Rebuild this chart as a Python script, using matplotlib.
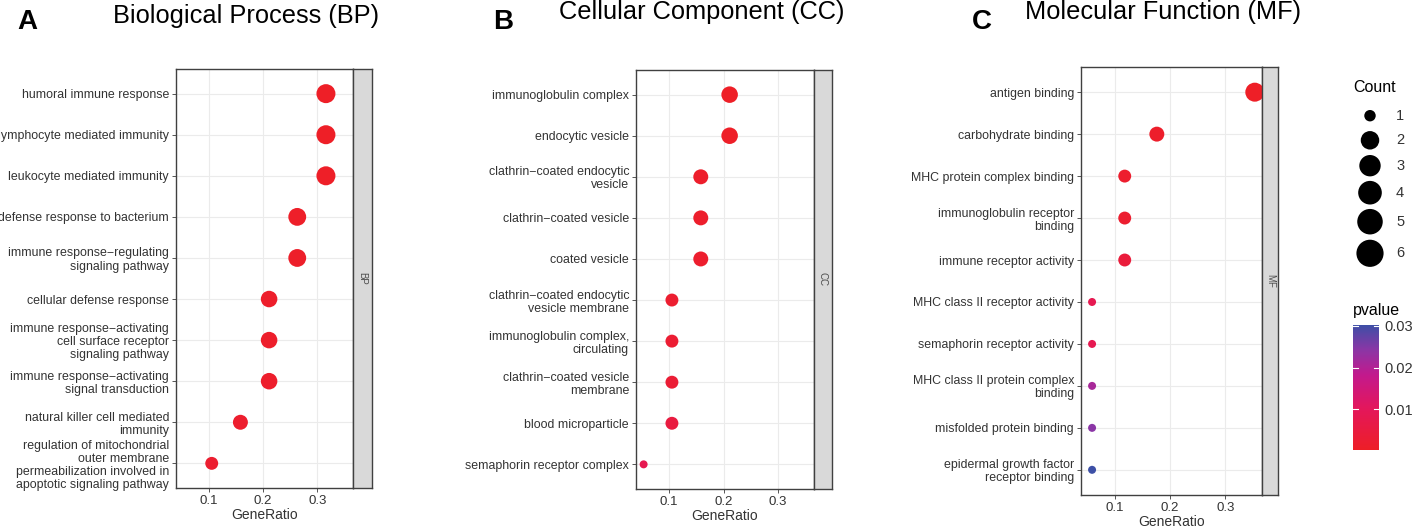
import numpy as np
import matplotlib
matplotlib.use("Agg")
import matplotlib.pyplot as plt
from matplotlib.colors import LinearSegmentedColormap, Normalize

plt.rcParams['font.family'] = ['Liberation Sans', 'DejaVu Sans']

# ---- data ----
bp_terms = ["humoral immune response",
            "lymphocyte mediated immunity",
            "leukocyte mediated immunity",
            "defense response to bacterium",
            "immune response\u2212regulating\nsignaling pathway",
            "cellular defense response",
            "immune response\u2212activating\ncell surface receptor\nsignaling pathway",
            "immune response\u2212activating\nsignal transduction",
            "natural killer cell mediated\nimmunity",
            "regulation of mitochondrial\nouter membrane\npermeabilization involved in\napoptotic signaling pathway"]
bp_count = [6, 6, 6, 5, 5, 4, 4, 4, 3, 2]
bp_ratio = [0.316, 0.316, 0.316, 0.263, 0.263, 0.211, 0.211, 0.211, 0.158, 0.105]
bp_pval = [0.0003, 0.0003, 0.0004, 0.0006, 0.0008, 0.001, 0.001, 0.0012, 0.0015, 0.002]

cc_terms = ["immunoglobulin complex",
            "endocytic vesicle",
            "clathrin\u2212coated endocytic\nvesicle",
            "clathrin\u2212coated vesicle",
            "coated vesicle",
            "clathrin\u2212coated endocytic\nvesicle membrane",
            "immunoglobulin complex,\ncirculating",
            "clathrin\u2212coated vesicle\nmembrane",
            "blood microparticle",
            "semaphorin receptor complex"]
cc_count = [4, 4, 3, 3, 3, 2, 2, 2, 2, 1]
cc_ratio = [0.211, 0.211, 0.158, 0.158, 0.158, 0.105, 0.105, 0.105, 0.105, 0.053]
cc_pval = [0.0003, 0.0005, 0.001, 0.0012, 0.0015, 0.002, 0.0025, 0.003, 0.005, 0.008]

mf_terms = ["antigen binding",
            "carbohydrate binding",
            "MHC protein complex binding",
            "immunoglobulin receptor\nbinding",
            "immune receptor activity",
            "MHC class II receptor activity",
            "semaphorin receptor activity",
            "MHC class II protein complex\nbinding",
            "misfolded protein binding",
            "epidermal growth factor\nreceptor binding"]
mf_count = [6, 3, 2, 2, 2, 1, 1, 1, 1, 1]
mf_ratio = [0.353, 0.176, 0.118, 0.118, 0.118, 0.059, 0.059, 0.059, 0.059, 0.059]
mf_pval = [0.0003, 0.001, 0.0015, 0.002, 0.004, 0.008, 0.008, 0.021, 0.024, 0.030]

legend_counts = [1, 2, 3, 4, 5, 6]
pval_ticks = [0.01, 0.02, 0.03]

# ---- style ----
W, H, DPI = 1417, 528, 100
cmap = LinearSegmentedColormap.from_list(
    "rb", [(0, "#EE1F27"), (0.33, "#E4175C"), (0.6, "#C21A8E"),
           (0.8, "#8A37A6"), (1.0, "#3B50A6")])
norm = Normalize(vmin=0.0002, vmax=0.0302)
txt_col = "#333333"
grid_col = "#EBEBEB"
border_col = "#404040"


def diam_px(c):
    # ggplot area scale, range 1..6 counts
    return 8 + 11 * np.sqrt((np.asarray(c, float) - 1) / 5)


def s_of(d):
    return (d * 72 / DPI) ** 2


fig = plt.figure(figsize=(W / DPI, H / DPI), dpi=DPI)


def px_axes(x0, y0, x1, y1):
    return fig.add_axes([x0 / W, 1 - y1 / H, (x1 - x0) / W, (y1 - y0) / H])


def panel(box, strip_right, terms, ratio, count, pval, tag, letter, letter_xy,
          title, title_xy):
    x0, y0, x1, y1 = box
    ax = px_axes(x0, y0, x1, y1)
    n = len(terms)
    ypos = np.arange(n)[::-1]
    ax.scatter(ratio, ypos, s=s_of(diam_px(count)), c=pval, cmap=cmap,
               norm=norm, linewidths=0, zorder=3, clip_on=True)
    ax.set_xlim(0.039, 0.366)
    ax.set_ylim(-0.6, n - 1 + 0.6)
    ax.set_yticks(ypos)
    ax.set_yticklabels(terms, fontsize=8.9, color=txt_col, ha="right",
                       multialignment="right", linespacing=1.12)
    ax.set_xticks([0.1, 0.2, 0.3])
    ax.set_xticklabels(["0.1", "0.2", "0.3"], fontsize=9.5, color=txt_col)
    ax.tick_params(length=3, width=0.7, color="#555555", pad=2)
    ax.grid(True, color=grid_col, lw=0.8, zorder=0)
    ax.set_axisbelow(True)
    for sp in ax.spines.values():
        sp.set_color(border_col)
        sp.set_linewidth(1.0)
    ax.set_xlabel("GeneRatio", fontsize=10, color=txt_col, labelpad=1)

    st = px_axes(x1, y0, strip_right, y1)
    st.set_facecolor("#D9D9D9")
    st.set_xticks([])
    st.set_yticks([])
    for sp in st.spines.values():
        sp.set_color(border_col)
        sp.set_linewidth(1.0)
    st.text(0.5, 0.5, tag, rotation=-90, ha="center", va="center",
            fontsize=7, color="#4d4d4d", transform=st.transAxes)

    fig.text(letter_xy[0] / W, 1 - letter_xy[1] / H, letter, fontsize=20,
             fontweight="bold", ha="center", va="center")
    fig.text(title_xy[0] / W, 1 - title_xy[1] / H, title, fontsize=18.3,
             ha="center", va="center")
    return ax


panel((176, 69, 353, 488), 372, bp_terms, bp_ratio, bp_count, bp_pval,
      "BP", "A", (27, 22), "Biological Process (BP)", (246, 16))
panel((636, 70, 814, 489), 832, cc_terms, cc_ratio, cc_count, cc_pval,
      "CC", "B", (503, 22), "Cellular Component (CC)", (702, 12))
panel((1081, 67, 1262, 495), 1278, mf_terms, mf_ratio, mf_count, mf_pval,
      "MF", "C", (982, 22), "Molecular Function (MF)", (1163, 12))

# ---- Count legend ----
lg = fig.add_axes([0, 0, 1, 1])
lg.set_xlim(0, W)
lg.set_ylim(H, 0)
lg.axis("off")
key_y = [115.7, 140.3, 165.7, 192.7, 221.7, 253.3]
lg.scatter([1370] * len(legend_counts), key_y,
           s=s_of(diam_px(legend_counts) * 1.43), c="black", linewidths=0)
for yk, c in zip(key_y, legend_counts):
    lg.text(1396, yk, str(c), fontsize=10.5, color=txt_col, va="center", ha="left")
lg.text(1353, 87, "Count", fontsize=11.5, color="black", va="center", ha="left")
lg.text(1353, 310, "pvalue", fontsize=11.5, color="black", va="center", ha="left")

# ---- pvalue colorbar ----
cax = px_axes(1353, 325, 1379, 450)
grad = np.linspace(norm.vmin, norm.vmax, 256).reshape(-1, 1)
cax.imshow(grad, aspect="auto", cmap=cmap, norm=norm, origin="lower",
           extent=[0, 1, norm.vmin, norm.vmax])
cax.set_xticks([])
cax.yaxis.tick_right()
cax.set_yticks(pval_ticks)
cax.set_yticklabels([f"{v:.2f}" for v in pval_ticks], fontsize=10.5, color=txt_col)
cax.tick_params(axis="y", length=0, pad=4)
for v in pval_ticks:
    cax.plot([0, 0.2], [v, v], color="white", lw=0.8)
    cax.plot([0.8, 1], [v, v], color="white", lw=0.8)
cax.set_xlim(0, 1)
cax.set_ylim(norm.vmin, norm.vmax)
for sp in cax.spines.values():
    sp.set_visible(False)

fig.savefig("out.png", dpi=DPI, facecolor="white")
